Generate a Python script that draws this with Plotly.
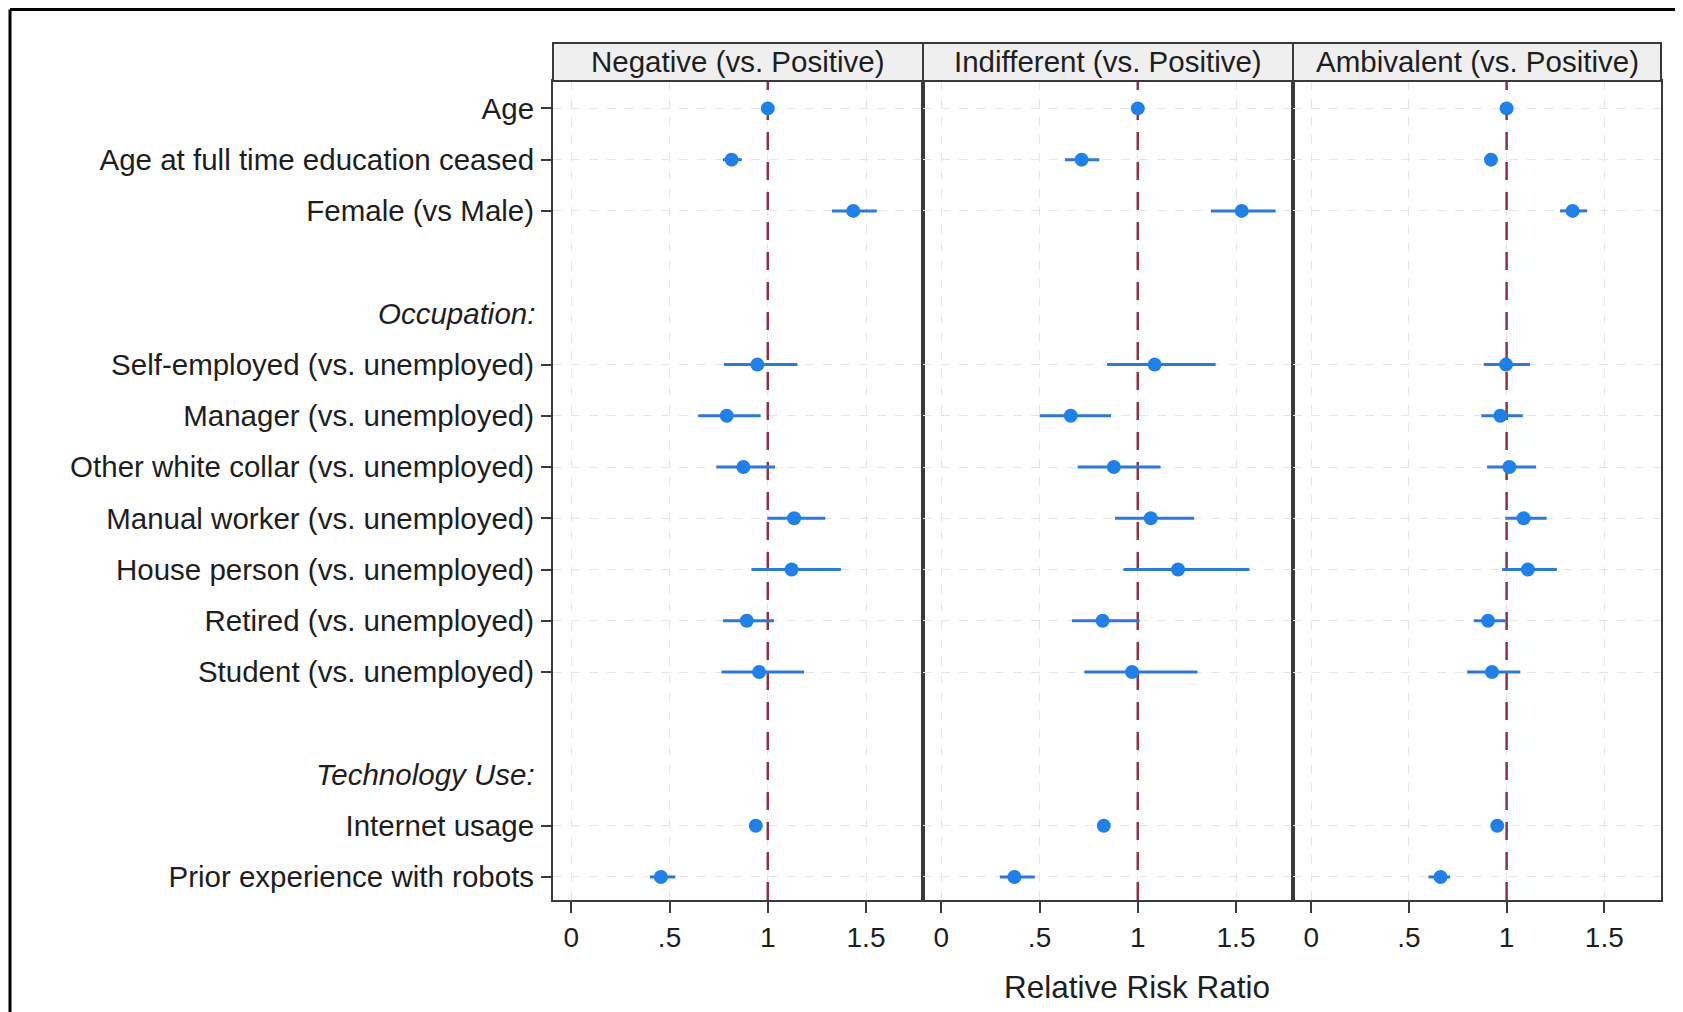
import plotly.graph_objects as go

# ---------------- data ----------------
row_labels = [
    "Age",
    "Age at full time education ceased",
    "Female (vs Male)",
    None,
    "Occupation:",
    "Self-employed (vs. unemployed)",
    "Manager (vs. unemployed)",
    "Other white collar (vs. unemployed)",
    "Manual worker (vs. unemployed)",
    "House person (vs. unemployed)",
    "Retired (vs. unemployed)",
    "Student (vs. unemployed)",
    None,
    "Technology Use:",
    "Internet usage",
    "Prior experience with robots",
]
group_headers = ["Occupation:", "Technology Use:"]

panel_titles = ["Negative (vs. Positive)", "Indifferent (vs. Positive)", "Ambivalent (vs. Positive)"]

# estimates (relative risk ratios) and 95% CI, in order of the variables
neg_est = [1.00, 0.816, 1.435, 0.947, 0.791, 0.876, 1.134, 1.121, 0.893, 0.956, 0.939, 0.456]
neg_lo = [0.99, 0.772, 1.327, 0.777, 0.646, 0.738, 0.998, 0.917, 0.772, 0.765, 0.910, 0.400]
neg_hi = [1.01, 0.868, 1.555, 1.151, 0.964, 1.037, 1.293, 1.372, 1.032, 1.185, 0.970, 0.530]

ind_est = [1.00, 0.714, 1.529, 1.086, 0.659, 0.878, 1.066, 1.205, 0.821, 0.971, 0.827, 0.372]
ind_lo = [0.99, 0.629, 1.372, 0.844, 0.501, 0.694, 0.884, 0.927, 0.665, 0.728, 0.800, 0.298]
ind_hi = [1.01, 0.804, 1.702, 1.396, 0.864, 1.116, 1.287, 1.568, 1.009, 1.304, 0.855, 0.476]

amb_est = [1.00, 0.920, 1.338, 0.997, 0.968, 1.014, 1.087, 1.109, 0.905, 0.925, 0.952, 0.662]
amb_lo = [0.99, 0.890, 1.273, 0.883, 0.871, 0.900, 0.993, 0.977, 0.832, 0.798, 0.935, 0.600]
amb_hi = [1.01, 0.950, 1.412, 1.120, 1.083, 1.151, 1.205, 1.257, 0.993, 1.070, 0.970, 0.711]

x_tickvals = [0, 0.5, 1, 1.5]
x_ticktext = ["0", ".5", "1", "1.5"]
reference_value = 1
x_title = "Relative Risk Ratio"

# ---------------- derived ----------------
variables = [r for r in row_labels if r and r not in group_headers]
ypos = [row_labels.index(v) for v in variables]
series = [(neg_est, neg_lo, neg_hi), (ind_est, ind_lo, ind_hi), (amb_est, amb_lo, amb_hi)]

OFF = 8  # page body margin
W, H = 1683 - OFF, 1012 - OFF
FONT = "Arial, Liberation Sans, sans-serif"
TXT = "#1e1e1e"
FRAME = "#3a3a3a"
MARKER = "#1f80ea"
CI = "#2e79d6"

# panel pixel edges (screen coordinates)
px_edges = [553, 923, 1293, 1661]
plot_top_px, plot_bot_px = 81, 900
strip_top_px = 43
yrange = [15.45, -0.535]


def fx(p):
    return (p - OFF) / W


def fy(p):
    return 1 - (p - OFF) / H


fig = go.Figure()

for i, (est, lo, hi) in enumerate(series):
    xa = "x" if i == 0 else f"x{i+1}"
    ya = "y" if i == 0 else f"y{i+1}"
    # reference line at RRR = 1 spanning the axis range
    fig.add_trace(go.Scatter(
        x=[reference_value, reference_value], y=yrange, mode="lines",
        xaxis=xa, yaxis=ya,
        line=dict(color="#8c3345", width=2.5, dash="18px,12px"),
        showlegend=False, hoverinfo="skip",
    ))
    fig.add_trace(go.Scatter(
        x=est, y=ypos, mode="markers",
        xaxis=xa, yaxis=ya,
        marker=dict(color=MARKER, size=14, line=dict(width=0)),
        error_x=dict(type="data", symmetric=False,
                     array=[h - e for h, e in zip(hi, est)],
                     arrayminus=[e - l for e, l in zip(est, lo)],
                     color=CI, thickness=3, width=0),
        showlegend=False, hoverinfo="x+y",
    ))

layout = dict(
    width=W, height=H,
    margin=dict(l=0, r=0, t=0, b=0),
    paper_bgcolor="white", plot_bgcolor="white",
    font=dict(family=FONT, color=TXT, size=28),
    showlegend=False,
)

shapes = []
annotations = []
for i in range(3):
    xk = "xaxis" if i == 0 else f"xaxis{i+1}"
    yk = "yaxis" if i == 0 else f"yaxis{i+1}"
    xa = "x" if i == 0 else f"x{i+1}"
    ya = "y" if i == 0 else f"y{i+1}"
    layout[xk] = dict(
        domain=[fx(px_edges[i]), fx(px_edges[i + 1])],
        anchor=ya, range=[-0.093, 1.79],
        tickvals=x_tickvals, ticktext=x_ticktext,
        ticks="outside", ticklen=11, tickwidth=2, tickcolor=FRAME,
        tickfont=dict(size=28, color=TXT),
        showline=True, linecolor=FRAME, linewidth=2, mirror=True,
        showgrid=True, gridcolor="#e6e6e6", gridwidth=1, griddash="dash",
        zeroline=False,
    )
    ydict = dict(
        domain=[fy(plot_bot_px), fy(plot_top_px)],
        anchor=xa, range=yrange,
        tickvals=ypos,
        showline=True, linecolor=FRAME, linewidth=2, mirror=True,
        showgrid=True, gridcolor="#e6e6e6", gridwidth=1, griddash="dash",
        zeroline=False,
    )
    if i == 0:
        ydict.update(ticktext=variables, ticks="outside", ticklen=10, tickwidth=2,
                     tickcolor=FRAME, tickfont=dict(size=29.5, color=TXT),
                     ticklabelstandoff=1)
    else:
        ydict.update(matches="y", showticklabels=False, ticks="")
    layout[yk] = ydict

    # header strip
    shapes.append(dict(type="rect", xref="paper", yref="paper",
                       x0=fx(px_edges[i]), x1=fx(px_edges[i + 1]),
                       y0=fy(plot_top_px), y1=fy(strip_top_px),
                       fillcolor="#efefef", line=dict(color=FRAME, width=2)))
    annotations.append(dict(text=panel_titles[i], xref="paper", yref="paper",
                            x=(fx(px_edges[i]) + fx(px_edges[i + 1])) / 2,
                            y=(fy(plot_top_px) + fy(strip_top_px)) / 2,
                            showarrow=False, xanchor="center", yanchor="middle",
                            font=dict(size=29.5, color=TXT)))

# group headers (italic, no tick)
for h in group_headers:
    annotations.append(dict(text=f"<i>{h}</i>", xref="paper", yref="y",
                            x=fx(537), y=row_labels.index(h),
                            xanchor="right", yanchor="middle", showarrow=False,
                            font=dict(size=29.5, color=TXT)))

# x axis title
annotations.append(dict(text=x_title, xref="paper", yref="paper",
                        x=fx(1137), y=fy(987), xanchor="center", yanchor="middle",
                        showarrow=False, font=dict(size=31.5, color=TXT)))

# outer border (top and left only visible)
shapes.append(dict(type="line", xref="paper", yref="paper",
                   x0=fx(10), x1=1.0, y0=0.9985, y1=0.9985,
                   line=dict(color="black", width=3)))
shapes.append(dict(type="line", xref="paper", yref="paper",
                   x0=fx(10), x1=fx(10), y0=0, y1=0.9985,
                   line=dict(color="black", width=3)))

layout["shapes"] = shapes
layout["annotations"] = annotations
fig.update_layout(**layout)

fig.write_html("out.html")
